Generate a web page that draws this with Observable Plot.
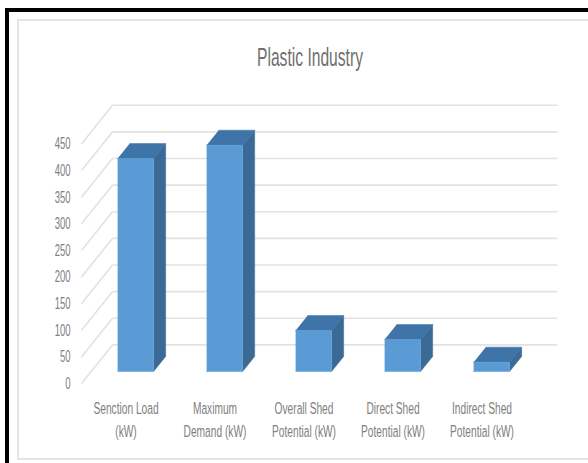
<!DOCTYPE html>
<html>
<head>
<meta charset="utf-8">
<script src="https://cdn.jsdelivr.net/npm/d3@7"></script>
<script src="https://cdn.jsdelivr.net/npm/@observablehq/plot@0.6"></script>
<style>
  html, body { margin: 0; padding: 0; background: #fff; }
  #chart { position: relative; width: 588px; height: 463px; overflow: hidden; }
  #chart svg { position: absolute; left: 0; top: 0; }
  .edge { position: absolute; }
  #title {
    position: absolute; left: 110px; width: 400px; top: 42px; text-align: center;
    font: 25px/30px "Liberation Sans", sans-serif; color: #6f6f6f;
    transform: scaleX(0.625); transform-origin: 200px 0;
  }
</style>
</head>
<body>
<div id="chart">
  <div class="edge" style="left:5px;top:8px;width:583px;height:4px;background:#000"></div>
  <div class="edge" style="left:5px;top:8px;width:4px;height:455px;background:#000"></div>
  <div class="edge" style="left:17px;top:19px;width:571px;height:2px;background:#e4e4e4"></div>
  <div class="edge" style="left:17px;top:19px;width:2px;height:441px;background:#e4e4e4"></div>
  <div class="edge" style="left:17px;top:458px;width:571px;height:2px;background:#e4e4e4"></div>
  <div id="title">Plastic Industry</div>
</div>
<script>
// Load and shed figures for the plastic industry, in kW
const categories = [
  "Senction Load\n(kW)",
  "Maximum\nDemand (kW)",
  "Overall Shed\nPotential (kW)",
  "Direct Shed\nPotential (kW)",
  "Indirect Shed\nPotential (kW)"
];
const values = [400, 425, 77, 60, 17.5];
const yTicks = [0, 50, 100, 150, 200, 250, 300, 350, 400, 450];

// Oblique depth: t = 0 is the front of the floor, t = 1 the back wall.
const skewX = 0.348;   // category units per unit of depth
const skewY = 72.5;    // value units per unit of depth
const barFront = 0.31, barBack = 0.70, barWidth = 0.404;
const at = (c, v, t) => ({x: c + skewX * t, y: v + skewY * t});

const quad = (bar, points) => points.map(p => ({bar, ...p}));

const front = [], top_ = [], side = [];
values.forEach((v, i) => {
  const l = i + 0.5 - barWidth / 2, r = i + 0.5 + barWidth / 2;
  front.push(...quad(i, [at(l, 0, barFront), at(r, 0, barFront), at(r, v, barFront), at(l, v, barFront)]));
  top_.push(...quad(i, [at(l, v, barFront), at(r, v, barFront), at(r, v, barBack), at(l, v, barBack)]));
  side.push(...quad(i, [at(r, 0, barFront), at(r, 0, barBack), at(r, v, barBack), at(r, v, barFront)]));
});

const wallLines = yTicks.map(v => {
  const a = at(0, v, 1), b = at(categories.length, v, 1);
  return {x1: a.x, y1: a.y, x2: b.x, y2: b.y};
});
const floorLines = yTicks.map(v => {
  const a = at(0, v, 0), b = at(0, v, 1);
  return {x1: a.x, y1: a.y, x2: b.x, y2: b.y};
});

const gridStyle = {stroke: "#e2e2e2", strokeWidth: 1.6};
const faceOf = (data, fill) => Plot.line(data, {x: "x", y: "y", z: "bar", fill, stroke: fill, strokeWidth: 0.5});

const plot = Plot.plot({
  width: 588, height: 463,
  marginLeft: 81, marginRight: 62, marginTop: 143.4, marginBottom: 80,
  style: {fontFamily: "'Liberation Sans', sans-serif", background: "transparent", overflow: "visible"},
  x: {type: "linear", domain: [0, categories.length], axis: null},
  y: {domain: [0, 450], axis: null},
  marks: [
    Plot.link(wallLines, {x1: "x1", y1: "y1", x2: "x2", y2: "y2", ...gridStyle}),
    Plot.link(floorLines, {x1: "x1", y1: "y1", x2: "x2", y2: "y2", ...gridStyle}),
    faceOf(side, "#3a6a95"),
    faceOf(top_, "#3f74a8"),
    faceOf(front, "#5b9bd5"),
    Plot.axisY(yTicks, {anchor: "left", tickSize: 0, tickPadding: 11, label: null, tickFormat: d => String(d), fontSize: 17, fill: "#808080", dy: 0}),
    Plot.text(categories, {
      x: (d, i) => i + 0.5, y: () => 0,
      text: d => d, lineAnchor: "top", lineHeight: 1.35, dy: 14,
      fontSize: 17, fill: "#808080"
    })
  ]
});

// Narrow the type horizontally for a condensed setting
plot.querySelectorAll("text").forEach(t => {
  const axisLabel = /^\d+$/.test(t.textContent);
  t.setAttribute("transform", (t.getAttribute("transform") || "") + ` scale(${axisLabel ? 0.56 : 0.6},1)`);
});
document.getElementById("chart").appendChild(plot);
</script>
</body>
</html>
